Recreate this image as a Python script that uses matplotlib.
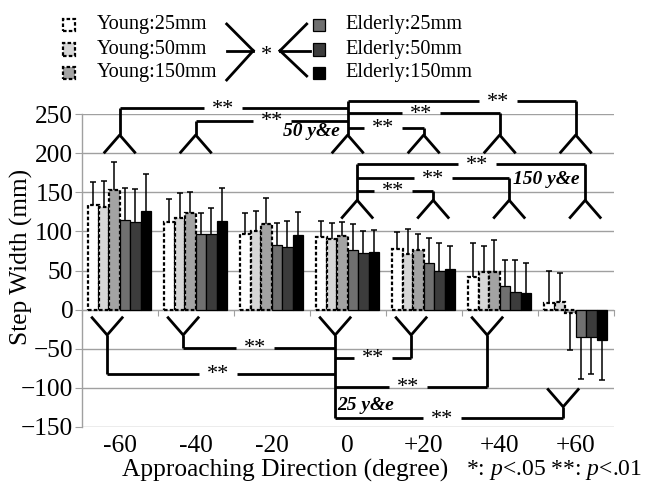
import numpy as np
import matplotlib.pyplot as plt
from matplotlib.lines import Line2D
from matplotlib.patches import Rectangle

plt.rcParams['font.family'] = ['Liberation Serif', 'DejaVu Serif']
plt.rcParams['mathtext.fontset'] = 'custom'
plt.rcParams['mathtext.rm'] = 'Liberation Serif'
plt.rcParams['mathtext.it'] = 'Liberation Serif:italic'

# data
directions = ['-60', '-40', '-20', '0', '+20', '+40', '+60']
series_names = ['Young:25mm', 'Young:50mm', 'Young:150mm',
                'Elderly:25mm', 'Elderly:50mm', 'Elderly:150mm']

young_25 = [134, 112, 97, 93, 78, 42, 8]
young_50 = [131, 117, 100, 90, 71, 48, 10]
young_150 = [153, 124, 110, 94, 76, 48, -4]
elderly_25 = [115, 97, 83, 76, 59, 30, -35]
elderly_50 = [112, 97, 80, 72, 50, 23, -35]
elderly_150 = [126, 114, 96, 74, 52, 21, -39]

young_25_sd = [29, 29, 27, 21, 21, 43, 42]
young_50_sd = [34, 32, 26, 21, 32, 34, 37]
young_150_sd = [36, 26, 33, 18, 21, 41, 48]
elderly_25_sd = [41, 27, 28, 34, 32, 33, 54]
elderly_50_sd = [42, 33, 34, 29, 35, 41, 47]
elderly_150_sd = [47, 42, 29, 28, 29, 38, 51]

means = [young_25, young_50, young_150, elderly_25, elderly_50, elderly_150]
sds = [young_25_sd, young_50_sd, young_150_sd, elderly_25_sd, elderly_50_sd, elderly_150_sd]
face_colors = ['white', '#d6d6d6', '#a3a3a3', '#707070', '#3c3c3c', 'black']
dashed = [True, True, True, False, False, False]

# significance brackets: (other group index, level, star position); reference group is 0 deg
ref_idx = 3
comps_50 = [(0, 258, 1.36), (1, 242, 2.0), (6, 267, 4.98), (5, 251.6, 3.97), (4, 233, 3.46)]
comps_150 = [(6, 186, 4.70), (5, 168, 4.12), (4, 152, 3.60)]
comps_25 = [(1, -49, 1.78), (0, -82, 1.29), (4, -61.7, 3.33), (5, -98.8, 3.79), (6, -139.3, 4.24)]

W, H = 647, 491
fig = plt.figure(figsize=(W / 100, H / 100), dpi=100)
ax = fig.add_axes([81.7 / W, 1 - 426.7 / H, 532 / W, 312.4 / H])

grid_c = '#a0a0a0'
x = np.arange(len(directions))
w = 0.138
for j in range(6):
    xs = x + (j - 2.5) * w
    m = np.array(means[j], dtype=float)
    s = np.array(sds[j], dtype=float)
    if dashed[j]:
        ax.bar(xs, m, w, color=face_colors[j], edgecolor='black', linewidth=1.6,
               linestyle=(0, (1.6, 1.0)), zorder=2)
    else:
        ax.bar(xs, m, w, color=face_colors[j], edgecolor='black', linewidth=0.9, zorder=2)
    ends = np.where(m >= 0, m + s, m - s)
    ax.vlines(xs, m, ends, color='black', linewidth=1.1, zorder=3)
    ax.plot(xs, ends, linestyle='none', marker='_', markersize=5, markeredgewidth=1.1,
            color='black', zorder=3)

ax.set_xlim(-0.5, len(directions) - 0.5)
ax.set_ylim(-150, 250)
ax.set_yticks(np.arange(-150, 251, 50))
ax.set_xticks(x)
ax.set_xticklabels(directions, fontsize=18.3)
ax.tick_params(axis='x', length=0, pad=6)
ax.tick_params(axis='y', labelsize=18.3, length=5, color=grid_c, pad=1)
ax.grid(axis='y', color=grid_c, linewidth=1.0)
ax.set_axisbelow(True)
for sp in ['top', 'right', 'bottom']:
    ax.spines[sp].set_visible(False)
ax.spines['left'].set_color(grid_c)
ax.spines['left'].set_linewidth(1.0)

sec = ax.secondary_xaxis(150 / 400)
sec.set_xticks(np.arange(-0.5, len(directions), 1.0))
sec.tick_params(labelbottom=False, labeltop=False, length=4, color=grid_c, direction='out')
for sp in sec.spines.values():
    sp.set_color(grid_c)

fig.text(21 / W, 1 - 256.7 / H, 'Step Width (mm)', fontsize=18.3, rotation=90,
         ha='center', va='center')

# brackets
lk = dict(color='black', linewidth=2.0, clip_on=False, zorder=5, solid_capstyle='butt')
star_fs = 16
gap = 0.25
leg_w = 0.21
fork_h = 23.5


def stars(xs, y):
    ax.annotate('**', (xs, y), xytext=(0, -4), textcoords='offset points',
                ha='center', va='baseline', fontsize=star_fs, zorder=6,
                annotation_clip=False)


def hline(x1, x2, y, xs):
    lo, hi = min(x1, x2), max(x1, x2)
    ax.plot([lo, xs - gap], [y, y], **lk)
    ax.plot([xs + gap, hi], [y, y], **lk)
    stars(xs, y)


def fork_up(xc, ya):
    ax.plot([xc - leg_w, xc, xc + leg_w], [ya - fork_h, ya, ya - fork_h], **lk)


def fork_down(xc, yj):
    ax.plot([xc - leg_w, xc, xc + leg_w], [yj + fork_h, yj, yj + fork_h], **lk)


def bracket_set(comps, off, tip, upward):
    groups = sorted(set([c[0] for c in comps] + [ref_idx]))
    for g in groups:
        if upward:
            fork_up(g + off, tip[g])
        else:
            fork_down(g + off, tip[g])
    levels = [c[1] for c in comps]
    far = max(levels) if upward else min(levels)
    ax.plot([ref_idx + off] * 2, [tip[ref_idx], far], **lk)
    for g, lev, xs in comps:
        ax.plot([g + off] * 2, [tip[g], lev], **lk)
        hline(g + off, ref_idx + off, lev, xs)


bracket_set(comps_50, 0.0, {g: 223.5 for g in range(7)}, True)
bracket_set(comps_150, 0.125, {g: 140 for g in range(7)}, True)
tip25 = {g: -32.6 for g in range(7)}
tip25[6] = -124.5
bracket_set(comps_25, -0.165, tip25, False)

lab = dict(fontsize=14, fontweight='bold', fontstyle='italic', zorder=6, va='center')
ax.text(2.90, 228.5, '50 y&e', ha='right', **lab)
ax.text(6.05, 166.7, '150 y&e', ha='right', **lab)
ax.text(2.86, -122.3, '25 y&e', ha='left', **lab)

# x label and significance note
fig.text(121.7 / W, 1 - 470 / H, 'Approaching Direction (degree)', fontsize=18.3,
         ha='left', va='center')
fig.text(642 / W, 1 - 470 / H, '*: $p$<.05 **: $p$<.01', fontsize=17,
         ha='right', va='center')

# legend
def fx(v):
    return v / W


def fy(v):
    return 1 - v / H


rows = [25, 49.5, 73]
for k in range(3):
    # young column
    fig.add_artist(Rectangle((fx(63), fy(rows[k] + 6)), 12 / W, 12 / H,
                             facecolor=face_colors[k], edgecolor='black', linewidth=1.6,
                             linestyle=(0, (1.6, 1.0)), transform=fig.transFigure))
    fig.text(fx(96.7), fy(rows[k]), series_names[k], fontsize=14.6, ha='left', va='center')
    # elderly column
    fig.add_artist(Rectangle((fx(313), fy(rows[k] + 6)), 12 / W, 12 / H,
                             facecolor=face_colors[k + 3], edgecolor='black', linewidth=0.9,
                             transform=fig.transFigure))
    fig.text(fx(345), fy(rows[k]), series_names[k + 3], fontsize=14.6, ha='left', va='center')

lg = dict(color='black', linewidth=2.0, transform=fig.transFigure)
for (x1, y1, x2, y2) in [(226.7, 24, 253.3, 50.7), (226.7, 50.7, 253.3, 50.7),
                         (226.7, 80, 253.3, 50.7), (280, 50.7, 306.7, 24),
                         (280, 50.7, 310, 50.7), (280, 50.7, 306.7, 76)]:
    fig.add_artist(Line2D([fx(x1), fx(x2)], [fy(y1), fy(y2)], **lg))
fig.text(fx(266.7), fy(56), '*', fontsize=16, ha='center', va='center')

fig.savefig('out.png', dpi=100)
